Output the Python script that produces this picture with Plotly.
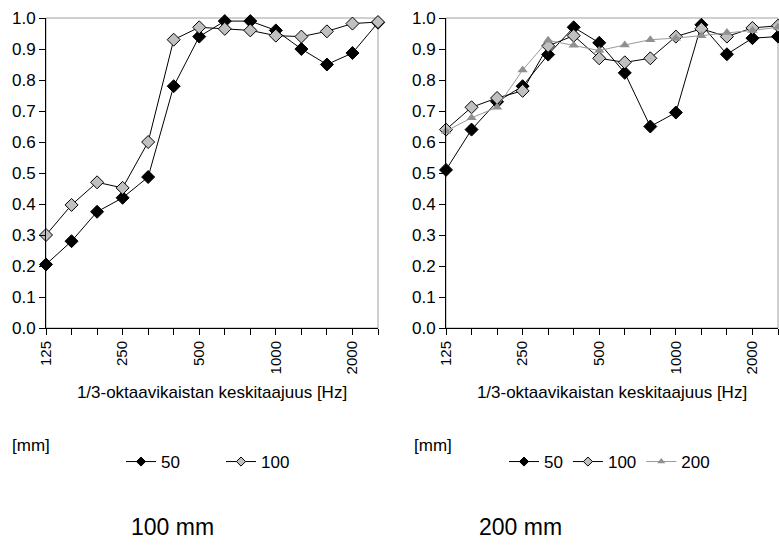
import plotly.graph_objects as go

freqs = ["125", "160", "200", "250", "315", "400", "500", "630", "800", "1000", "1250", "1600", "2000", "2500"]
tick_labels = ["125", "", "", "250", "", "", "500", "", "", "1000", "", "", "2000", ""]

# 100 mm panel
left_50 = [0.205, 0.28, 0.375, 0.42, 0.487, 0.78, 0.94, 0.99, 0.99, 0.96, 0.90, 0.85, 0.887, 0.985]
left_100 = [0.30, 0.397, 0.47, 0.452, 0.60, 0.93, 0.97, 0.965, 0.96, 0.943, 0.94, 0.957, 0.982, 0.987]

# 200 mm panel
right_50 = [0.51, 0.64, 0.73, 0.78, 0.882, 0.97, 0.92, 0.823, 0.65, 0.695, 0.978, 0.883, 0.935, 0.94]
right_100 = [0.64, 0.712, 0.742, 0.765, 0.91, 0.943, 0.87, 0.857, 0.87, 0.94, 0.965, 0.94, 0.968, 0.975]
right_200 = [0.635, 0.678, 0.712, 0.832, 0.928, 0.912, 0.895, 0.913, 0.93, 0.935, 0.943, 0.953, 0.96, 0.97]

W, H = 779, 545
FONT = "Arial, Liberation Sans, sans-serif"

styles = {
    "50": dict(line=dict(color="black", width=1),
               marker=dict(symbol="diamond", color="black", size=10, line=dict(color="black", width=1))),
    "100": dict(line=dict(color="black", width=1),
                marker=dict(symbol="diamond", color="#c0c0c0", size=10, line=dict(color="black", width=1))),
    "200": dict(line=dict(color="#999999", width=1),
                marker=dict(symbol="triangle-up", color="#909090", size=9, line=dict(width=0))),
}

fig = go.Figure()

def add_series(name, y, xa, ya, legend):
    st = styles[name]
    fig.add_trace(go.Scatter(x=freqs, y=y, mode="lines+markers", name=name,
                             line=st["line"], marker=st["marker"], xaxis=xa, yaxis=ya,
                             showlegend=False, cliponaxis=False))
    # legend entry with smaller marker
    lm = dict(st["marker"])
    lm["size"] = 7
    fig.add_trace(go.Scatter(x=[None], y=[None], mode="lines+markers", name=name,
                             line=st["line"], marker=lm, xaxis=xa, yaxis=ya,
                             showlegend=True, legend=legend))

add_series("50", left_50, "x", "y", "legend")
add_series("100", left_100, "x", "y", "legend")
add_series("50", right_50, "x2", "y2", "legend2")
add_series("100", right_100, "x2", "y2", "legend2")
add_series("200", right_200, "x2", "y2", "legend2")

ydom = [(H - 328) / H, (H - 18) / H]
xdom1 = [46 / W, 378 / W]
xdom2 = [446 / W, 778 / W]

common_x = dict(type="category", range=[0, 13], tickmode="array", tickvals=freqs, ticktext=tick_labels,
                ticks="outside", ticklen=6, tickcolor="black", tickangle=-90,
                showline=True, linecolor="black", linewidth=1, showgrid=False, zeroline=False,
                tickfont=dict(family=FONT, size=15, color="black"),
                title=dict(text="1/3-oktaavikaistan keskitaajuus [Hz]",
                           font=dict(family=FONT, size=17, color="black"), standoff=12),
                automargin=False, fixedrange=True)
common_y = dict(range=[0, 1], dtick=0.1, tick0=0, tickformat=".1f", ticks="outside", ticklen=6,
                tickcolor="black", showline=True, linecolor="black", linewidth=1, showgrid=False,
                zeroline=False, tickfont=dict(family=FONT, size=17, color="black"),
                automargin=False, fixedrange=True)

fig.update_layout(
    width=W, height=H, margin=dict(l=0, r=0, t=0, b=0),
    template="none", paper_bgcolor="white", plot_bgcolor="white",
    font=dict(family=FONT, size=17, color="black"),
    xaxis=dict(domain=xdom1, anchor="y", **common_x),
    yaxis=dict(domain=ydom, anchor="x", **common_y),
    xaxis2=dict(domain=xdom2, anchor="y2", **common_x),
    yaxis2=dict(domain=ydom, anchor="x2", **common_y),
    legend=dict(orientation="h", x=121 / W, xanchor="left", y=(H - 462) / H, yanchor="middle",
                font=dict(family=FONT, size=17, color="black"), bgcolor="rgba(0,0,0,0)",
                entrywidth=55, entrywidthmode="pixels", itemwidth=30),
    legend2=dict(orientation="h", x=504 / W, xanchor="left", y=(H - 462) / H, yanchor="middle",
                 font=dict(family=FONT, size=17, color="black"), bgcolor="rgba(0,0,0,0)",
                 itemwidth=30),
    shapes=[
        dict(type="rect", xref="x domain", yref="y domain", x0=0, x1=1, y0=0, y1=1,
             line=dict(color="#a0a0a0", width=1), layer="below"),
        dict(type="rect", xref="x2 domain", yref="y2 domain", x0=0, x1=1, y0=0, y1=1,
             line=dict(color="#a0a0a0", width=1), layer="below"),
    ],
    annotations=[
        dict(text="[mm]", x=10 / W, y=(H - 445) / H, xref="paper", yref="paper", xanchor="left",
             yanchor="middle", showarrow=False, font=dict(family=FONT, size=17, color="black")),
        dict(text="[mm]", x=412 / W, y=(H - 445) / H, xref="paper", yref="paper", xanchor="left",
             yanchor="middle", showarrow=False, font=dict(family=FONT, size=17, color="black")),
        dict(text="100 mm", x=172 / W, y=(H - 527) / H, xref="paper", yref="paper", xanchor="center",
             yanchor="middle", showarrow=False, font=dict(family=FONT, size=23, color="black")),
        dict(text="200 mm", x=520 / W, y=(H - 527) / H, xref="paper", yref="paper", xanchor="center",
             yanchor="middle", showarrow=False, font=dict(family=FONT, size=23, color="black")),
    ],
)

fig.write_html("out.html")
